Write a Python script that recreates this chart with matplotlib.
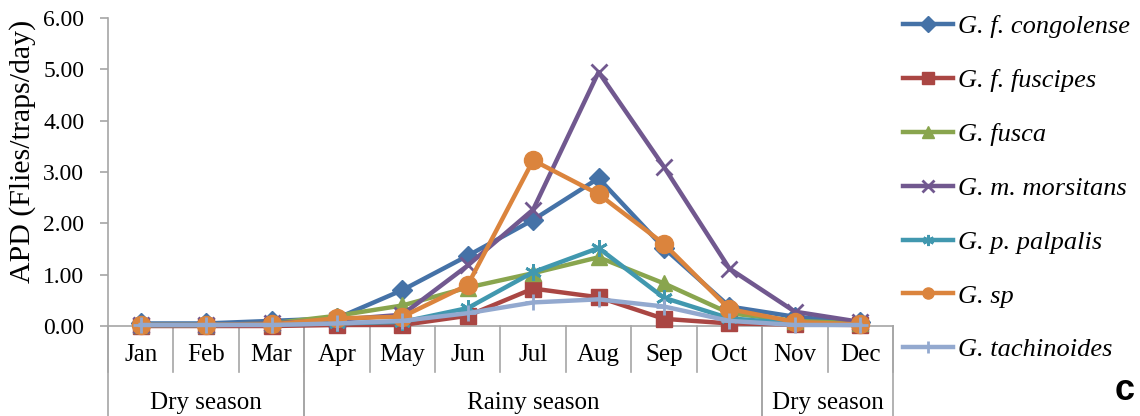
import numpy as np
import matplotlib.pyplot as plt

# ── DATA ──────────────────────────────────────────────────────────────────────
months = ['Jan', 'Feb', 'Mar', 'Apr', 'May', 'Jun',
          'Jul', 'Aug', 'Sep', 'Oct', 'Nov', 'Dec']
seasons = ['Dry season', 'Rainy season', 'Dry season']
season_bounds = [(-0.5, 2.5), (2.5, 9.5), (9.5, 11.5)]

congolense = [0.05, 0.05, 0.10, 0.15, 0.70, 1.37, 2.07, 2.88, 1.52, 0.38, 0.18, 0.07]
fuscipes = [0.00, 0.00, 0.00, 0.02, 0.02, 0.20, 0.73, 0.56, 0.14, 0.05, 0.03, 0.02]
fusca = [0.02, 0.02, 0.05, 0.20, 0.40, 0.75, 1.03, 1.34, 0.83, 0.25, 0.10, 0.05]
morsitans = [0.02, 0.02, 0.05, 0.12, 0.22, 1.18, 2.27, 4.95, 3.10, 1.12, 0.28, 0.08]
palpalis = [0.02, 0.02, 0.03, 0.05, 0.08, 0.35, 1.05, 1.52, 0.55, 0.15, 0.05, 0.02]
sp = [0.02, 0.02, 0.03, 0.15, 0.18, 0.80, 3.23, 2.57, 1.60, 0.33, 0.08, 0.03]
tachinoides = [0.02, 0.02, 0.02, 0.05, 0.10, 0.25, 0.46, 0.52, 0.38, 0.10, 0.02, 0.02]

series = [
    ('G. f. congolense', congolense, '#4572A7', 'D', 10),
    ('G. f. fuscipes', fuscipes, '#AA4643', 's', 11),
    ('G. fusca', fusca, '#89A54E', '^', 11),
    ('G. m. morsitans', morsitans, '#71588F', 'x', 12),
    ('G. p. palpalis', palpalis, '#4198AF', (6, 2, 0), 12),
    ('G. sp', sp, '#DB843D', 'o', 13),
    ('G. tachinoides', tachinoides, '#93A9CF', '+', 12),
]

GRID = '#A6A6A6'

# ── PLOT ──────────────────────────────────────────────────────────────────────
plt.rcParams['font.family'] = ['Liberation Serif', 'DejaVu Serif']

fig = plt.figure(figsize=(11.4, 4.16), dpi=100)
ax = fig.add_axes([0.0947, 0.2163, 0.6886, 0.740])

x = np.arange(len(months))
handles = []
for nome, vals, cor, mk, ms in series:
    fino = mk in ('x', '+', (6, 2, 0))
    h, = ax.plot(x, vals, color=cor, lw=3.2, marker=mk, markersize=ms,
                 markeredgewidth=2 if fino else 1,
                 markerfacecolor=cor, markeredgecolor=cor, clip_on=False, zorder=3)
    handles.append(h)

ax.set_xlim(-0.5, 11.5)
ax.set_ylim(0, 6)
ax.set_yticks(np.arange(0, 6.01, 1))
ax.set_yticklabels([f'{v:.2f}' for v in np.arange(0, 6.01, 1)], fontsize=17)
ax.set_xticks([])
ax.set_ylabel('APD (Flies/traps/day)', fontsize=21.5)
ax.yaxis.set_label_coords(-0.092, 0.568)

for s in ['top', 'right']:
    ax.spines[s].set_visible(False)
for s in ['left', 'bottom']:
    ax.spines[s].set_color(GRID)
    ax.spines[s].set_linewidth(1.2)
ax.tick_params(axis='y', color=GRID, length=6, width=1.2, pad=11)

# tabela de meses e estações abaixo do eixo
tr = ax.get_xaxis_transform()
for k in range(len(months) + 1):
    xb = k - 0.5
    ax.plot([xb, xb], [0, -0.15], transform=tr, color=GRID, lw=1.2, clip_on=False)
for i, m in enumerate(months):
    ax.text(i, -0.095, m, transform=tr, ha='center', va='center', fontsize=18)
for (a, b), nome in zip(season_bounds, seasons):
    for xb in (a, b):
        ax.plot([xb, xb], [0, -0.30], transform=tr, color=GRID, lw=1.2, clip_on=False)
    ax.text((a + b) / 2, -0.25, nome, transform=tr, ha='center', va='center', fontsize=18)

leg = fig.legend(handles, [s[0] for s in series], loc='upper left',
                 bbox_to_anchor=(903 / 1140, 1 - 15 / 416), frameon=False,
                 labelspacing=1.15, handlelength=1.9, handletextpad=0.2,
                 borderaxespad=0, borderpad=0,
                 prop={'family': 'Liberation Serif', 'style': 'italic', 'size': 19})
for lh in leg.legend_handles:
    lh.set_markersize(8)

fig.text(1125 / 1140, 1 - 390 / 416, 'c', fontsize=26, fontweight='bold',
         family='Liberation Sans', ha='center', va='center')

plt.savefig('out.png', dpi=100)
